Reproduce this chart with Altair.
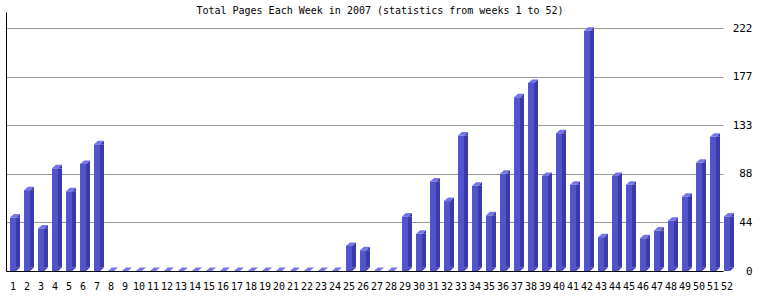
import altair as alt
import pandas as pd

# ---- data ----
weeks = list(range(1, 53))
pages = [49, 74, 39, 94, 73, 98, 116,
         0, 0, 0, 0, 0, 0, 0, 0, 0, 0, 0, 0, 0, 0, 0, 0, 0,
         23, 19, 0, 0, 50, 34, 82, 64, 124, 78, 51, 89, 159, 172, 87,
         126, 79, 220, 31, 87, 79, 30, 37, 46, 68, 99, 123, 50]
y_tick_values = [0, 44.4, 88.8, 133.2, 177.6, 222.0]
title_text = "Total Pages Each Week in 2007 (statistics from weeks 1 to 52)"

df = pd.DataFrame({"week": weeks, "pages": pages})

# ---- style ----
FONT = "DejaVu Sans Mono"
FRONT = "#5353CB"
SIDE = "#3A3AAA"
CAP = "#7474E8"
W, H = 717, 259

xscale = alt.Scale(domain=[0.5, 51.714], nice=False, zero=False, padding=0)
yscale = alt.Scale(domain=[0, 237.1], nice=False, zero=True, padding=0)

CAP_PATH = "M -3 0 L 3 0 L 7 -3.5 L 1 -3.5 Z"
SIDE_TOP_PATH = "M 3 0 L 7 -3.5 L 7 0 Z"
SIDE_BOTTOM_PATH = "M 3 -3.5 L 3 0 L 7 -3.5 Z"

base = alt.Chart(df)
xenc_noaxis = alt.X("week:Q", scale=xscale, axis=None)
yenc_noaxis = alt.Y("pages:Q", scale=yscale, axis=None)

front = base.mark_bar(width=6, color=FRONT, clip=False).encode(
    x=alt.X("week:Q", scale=xscale, axis=alt.Axis(
        labels=False, ticks=False, grid=False,
        domainColor="black", domainWidth=1, title=None)),
    y=alt.Y("pages:Q", scale=yscale, axis=alt.Axis(
        orient="right", values=y_tick_values, labelExpr="floor(datum.value)",
        grid=True, gridColor="#999999", gridWidth=1, domain=False, ticks=False,
        labelAlign="right", labelBaseline="middle", labelPadding=29,
        labelFont=FONT, labelFontSize=11, labelColor="black", title=None)),
)

positive = base.transform_filter("datum.pages > 0")

side = positive.mark_bar(width=4, xOffset=5, y2Offset=-3.5, color=SIDE, clip=False).encode(
    x=xenc_noaxis,
    y=alt.Y("pages:Q", scale=yscale, axis=alt.Axis(
        orient="left", labels=False, ticks=False, grid=False,
        domainColor="black", domainWidth=1, title=None)),
    y2=alt.datum(0),
)

side_top = positive.mark_point(shape=SIDE_TOP_PATH, size=4, filled=True, opacity=1,
                               color=SIDE, strokeWidth=0, clip=False).encode(
    x=xenc_noaxis, y=yenc_noaxis)

side_bottom = positive.mark_point(shape=SIDE_BOTTOM_PATH, size=4, filled=True, opacity=1,
                                  color=SIDE, strokeWidth=0, clip=False).encode(
    x=xenc_noaxis, y=alt.Y("zero:Q", scale=yscale, axis=None)
).transform_calculate(zero="0")

cap = base.mark_point(shape=CAP_PATH, size=4, filled=True, opacity=1,
                      color=CAP, strokeWidth=0, clip=False).encode(
    x=xenc_noaxis, y=yenc_noaxis)

# week labels under the baseline (text layer so week 52 past the frame is kept)
week_labels = base.mark_text(
    font=FONT, fontSize=10, color="black", align="center", baseline="middle", clip=False
).encode(x=xenc_noaxis, y=alt.value(H + 15.5), text="week:N")

title = alt.Chart(alt.Data(values=[{"t": title_text}])).mark_text(
    font=FONT, fontSize=10, color="black", align="center", baseline="alphabetic"
).encode(text="t:N", x=alt.value(374), y=alt.value(1.5))

chart = alt.layer(front, side, side_top, side_bottom, cap, week_labels, title).resolve_axis(
    x="independent", y="independent"
).properties(
    width=W, height=H,
    autosize=alt.AutoSizeParams(type="none"),
    padding={"left": 6, "top": 12, "right": 37, "bottom": 29},
    background="white",
).configure_view(stroke=None)

chart.save("out.html", embed_options={"renderer": "svg", "actions": False})
